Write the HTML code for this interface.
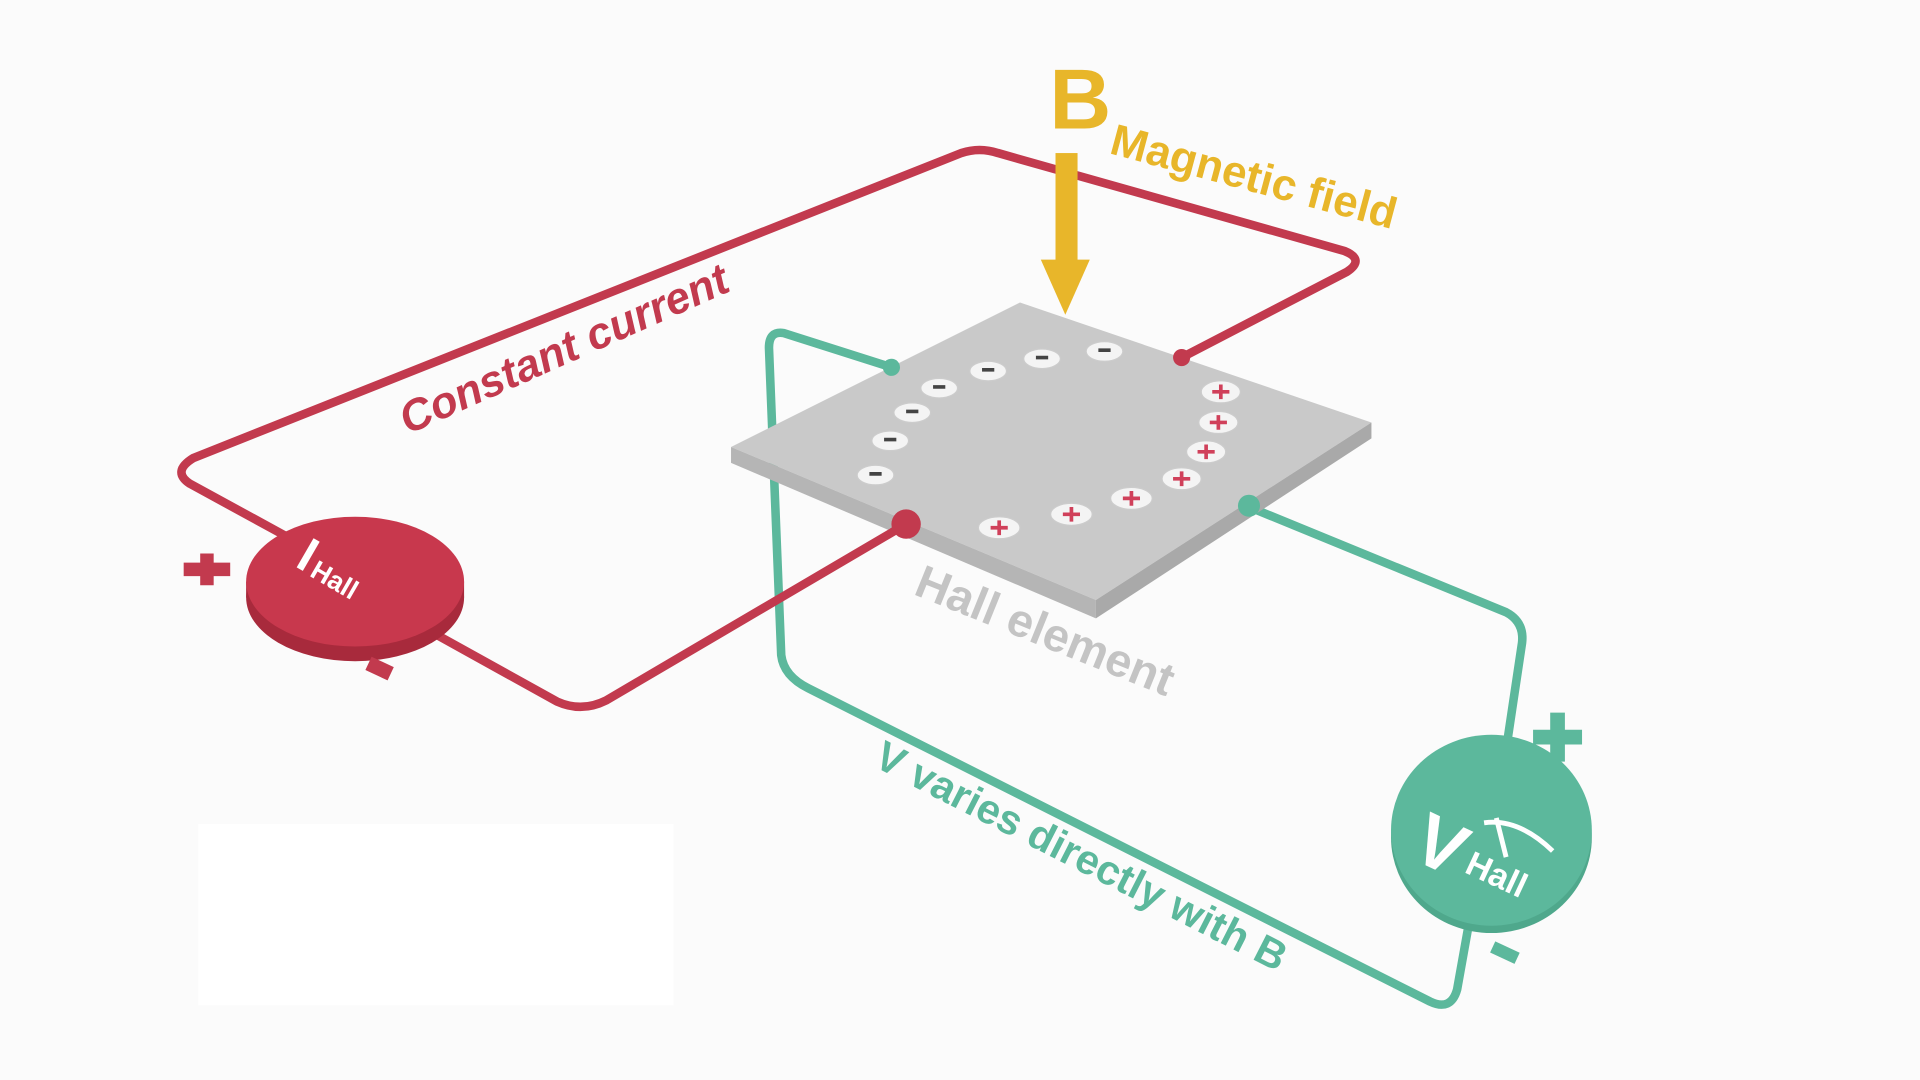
<!DOCTYPE html>
<html><head><meta charset="utf-8"><style>
html,body{margin:0;padding:0;background:#fbfbfb;}
svg{display:block;}
text{font-family:"Liberation Sans",sans-serif;font-weight:bold;}
</style></head><body>
<svg width="1920" height="1080" viewBox="0 0 1568 882" xmlns="http://www.w3.org/2000/svg">
<rect width="1568" height="882" fill="#fbfbfb"/>
<rect x="162" y="673" width="388" height="148" fill="#ffffff"/>
<!-- teal wires -->
<g fill="none" stroke="#5cb89c" stroke-width="7" stroke-linejoin="round" stroke-linecap="round">
<path d="M728 300 L640 272 Q628 270 628 284 L638 535 Q640 552 660 562 L1168 818 Q1185 826 1190 808 L1200 752"/>
<path d="M1020 414 L1230 500 Q1245 508 1243 525 L1230 612"/>
</g>
<!-- plate -->
<polygon points="597,365 833,247 1120,345 895,490" fill="#c9c9c9"/>
<polygon points="597,365 895,490 895,505 597,378" fill="#b5b5b5"/>
<polygon points="895,490 1120,345 1120,358 895,505" fill="#a9a9a9"/>
<!-- red wires -->
<g fill="none" stroke="#c23a4e" stroke-width="7" stroke-linejoin="round" stroke-linecap="round">
<path d="M232 437 L155 395 Q140 385 158 374 L785 125 Q800 120 815 125 L1098 205 Q1115 212 1100 222 L965 292"/>
<path d="M345 512 L455 573 Q475 582 495 572 L740 428"/>
</g>
<circle cx="740" cy="428" r="12" fill="#c23a4e"/>
<circle cx="965" cy="292" r="7" fill="#c23a4e"/>
<circle cx="1020" cy="413" r="9" fill="#5cb89c"/>
<circle cx="728" cy="300" r="7" fill="#5cb89c"/>
<!-- charges -->
<g stroke="#ccc" stroke-width="1">
<g fill="#f4f4f4">
<ellipse cx="902" cy="287" rx="15" ry="8"/><ellipse cx="851" cy="293" rx="15" ry="8"/><ellipse cx="807" cy="303" rx="15" ry="8"/><ellipse cx="767" cy="317" rx="15" ry="8"/><ellipse cx="745" cy="337" rx="15" ry="8"/><ellipse cx="727" cy="360" rx="15" ry="8"/><ellipse cx="715" cy="388" rx="15" ry="8"/>
<ellipse cx="997" cy="320" rx="16" ry="9"/><ellipse cx="995" cy="345" rx="16" ry="9"/><ellipse cx="985" cy="369" rx="16" ry="9"/><ellipse cx="965" cy="391" rx="16" ry="9"/><ellipse cx="924" cy="407" rx="17" ry="9"/><ellipse cx="875" cy="420" rx="17" ry="9"/><ellipse cx="816" cy="431" rx="17" ry="9"/>
</g></g>
<g stroke="#444" stroke-width="3">
<path d="M897 286h10M846 292h10M802 302h10M762 316h10M740 336h10M722 359h10M710 387h10"/>
</g>
<g stroke="#d0405a" stroke-width="3">
<path d="M990 320h14M997 314v12M988 345h14M995 339v12M978 369h14M985 363v12M958 391h14M965 385v12M917 407h14M924 401v12M868 420h14M875 414v12M809 431h14M816 425v12"/>
</g>
<!-- I Hall -->
<ellipse cx="290" cy="488" rx="89" ry="52" fill="#a82a3c"/>
<rect x="201" y="475" width="178" height="13" fill="#a82a3c"/>
<ellipse cx="290" cy="475" rx="89" ry="53" fill="#c8384d"/>
<text transform="translate(240,462) rotate(30)" font-size="40" fill="#fff">I</text>
<text transform="translate(252,470) rotate(30)" font-size="22" fill="#fff">Hall</text>
<path d="M150 465h38M169 452v26" stroke="#c23a4e" stroke-width="11"/>
<rect x="300" y="540" width="20" height="12" fill="#c23a4e" transform="rotate(25 310 546)"/>
<!-- V Hall -->
<ellipse cx="1218" cy="684" rx="82" ry="78" fill="#4fa88c"/>
<ellipse cx="1218" cy="678" rx="82" ry="78" fill="#5cb89c"/>
<text transform="translate(1150,700) rotate(25)" font-size="60" fill="#fff">V</text>
<text transform="translate(1195,712) rotate(25)" font-size="28" fill="#fff">Hall</text>
<path d="M1212 672 Q1240 668 1268 695" fill="none" stroke="#fff" stroke-width="4"/>
<path d="M1230 700 L1222 668" stroke="#fff" stroke-width="4"/>
<path d="M1252 602h40M1272 582v40" stroke="#5cb89c" stroke-width="12"/>
<path d="M1218 778h22" stroke="#5cb89c" stroke-width="10" transform="rotate(25 1229 778)"/>
<!-- B arrow -->
<rect x="862" y="125" width="18" height="100" fill="#e8b62a"/>
<polygon points="850,212 890,212 870,257" fill="#e8b62a"/>
<text x="857" y="105" font-size="70" fill="#e8b62a">B</text>
<text transform="translate(905,125) rotate(15)" font-size="36" fill="#e8b62a">Magnetic field</text>
<!-- labels -->
<text transform="translate(333,355) rotate(-24)" font-size="36" fill="#c23a4e" font-style="italic">Constant current</text>
<text transform="translate(745,485) rotate(22)" font-size="38" fill="#c4c4c4">Hall element</text>
<text transform="translate(712,625) rotate(27)" font-size="34" fill="#5cb89c">V varies directly with B</text>
</svg>
</body></html>
